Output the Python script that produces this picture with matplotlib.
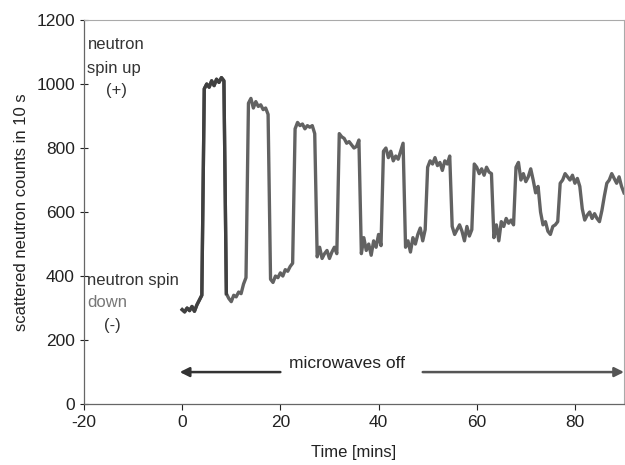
import numpy as np
import matplotlib
matplotlib.use("Agg")
import matplotlib.pyplot as plt

plt.rcParams['font.family'] = ['Liberation Sans', 'DejaVu Sans']
plt.rcParams['axes.unicode_minus'] = False

# time in minutes, one reading every 0.5 min from 0 to 90
time_step = 0.5
counts = [
    # spin down (start)
    295, 288, 300, 292, 305, 290, 310, 325, 340,
    # up
    985, 1000, 990, 1010, 995, 1015, 1005, 1020, 1010,
    # down
    345, 330, 320, 340, 335, 350, 345, 375, 395,
    # up
    940, 955, 925, 945, 930, 935, 920, 925, 905,
    # down
    390, 380, 400, 395, 410, 400, 420, 415, 430, 440,
    # up
    860, 880, 870, 875, 860, 870, 865, 870, 845,
    # down
    460, 490, 455, 470, 480, 455, 475, 490, 470,
    # up
    845, 835, 830, 815, 820, 810, 800, 805, 825,
    # down
    470, 520, 480, 500, 465, 510, 490, 530, 495,
    # up
    790, 800, 770, 790, 760, 775, 765, 790, 815,
    # down
    490, 510, 475, 520, 500, 530, 550, 510, 545,
    # up
    740, 760, 750, 770, 745, 755, 730, 760, 750, 775,
    # down
    555, 530, 545, 560, 540, 510, 555, 525, 545,
    # up
    750, 740, 720, 735, 715, 740, 725, 720,
    # down
    520, 560, 510, 570, 555, 580, 565, 575, 560,
    # up
    740, 755, 700, 720, 695, 710, 735, 700, 660, 680,
    # down
    600, 560, 570, 540, 530, 555, 560, 570,
    # up
    690, 700, 720, 710, 700, 715, 690, 705, 680,
    # down
    610, 575, 590, 600, 580, 595, 580, 570, 605,
    # up
    650, 690, 700, 720, 705, 690, 710, 680, 660,
]
time = np.arange(len(counts)) * time_step
first_cycle_end = 9.0

x_ticks = [-20, 0, 20, 40, 60, 80]
y_ticks = [0, 200, 400, 600, 800, 1000, 1200]

fig = plt.figure(figsize=(6.25, 4.65), dpi=100)
ax = fig.add_axes([0.1344, 0.131, 0.8640, 0.826])

counts = np.array(counts)
ax.plot(time, counts, color='#626262', lw=2.4, solid_joinstyle='round')
m = time <= first_cycle_end
ax.plot(time[m], counts[m], color='#404040', lw=2.4, solid_joinstyle='round')

ax.set_xlim(-20, 90)
ax.set_ylim(0, 1200)
ax.set_xticks(x_ticks)
ax.set_yticks(y_ticks)
ax.tick_params(axis='both', labelsize=12.5, colors='#222222', length=4,
               width=0.8, direction='out')
ax.tick_params(axis='y', direction='inout', length=6)
for s in ['left', 'bottom']:
    ax.spines[s].set_color('#666666')
    ax.spines[s].set_linewidth(0.9)
for s in ['top', 'right']:
    ax.spines[s].set_color('#aaaaaa')
    ax.spines[s].set_linewidth(0.8)

ax.set_xlabel('Time [mins]', fontsize=12, color='#222222', labelpad=11)
ax.set_ylabel('scattered neutron counts in 10 s', fontsize=12,
              color='#222222', labelpad=5)

ax.text(-19.3, 1122, 'neutron', fontsize=12, color='#333333', va='center')
ax.text(-19.3, 1050, 'spin up', fontsize=12, color='#333333', va='center')
ax.text(-15.5, 980, '(+)', fontsize=12, color='#333333', va='center')
ax.text(-19.3, 385, 'neutron spin', fontsize=12, color='#333333', va='center')
ax.text(-19.3, 316, 'down', fontsize=12, color='#777777', va='center')
ax.text(-16.0, 247, '(-)', fontsize=12, color='#333333', va='center')

ax.text(33.5, 126, 'microwaves off', fontsize=12.5, color='#222222',
        ha='center', va='center')
ax.annotate('', xy=(-0.5, 100), xytext=(20, 100),
            arrowprops=dict(arrowstyle='-|>', color='#333333', lw=1.8,
                            mutation_scale=14, shrinkA=0, shrinkB=0))
ax.annotate('', xy=(90, 100), xytext=(49, 100),
            arrowprops=dict(arrowstyle='-|>', color='#555555', lw=1.8,
                            mutation_scale=14, shrinkA=0, shrinkB=0),
            annotation_clip=False)

fig.savefig('out.png', dpi=100)
